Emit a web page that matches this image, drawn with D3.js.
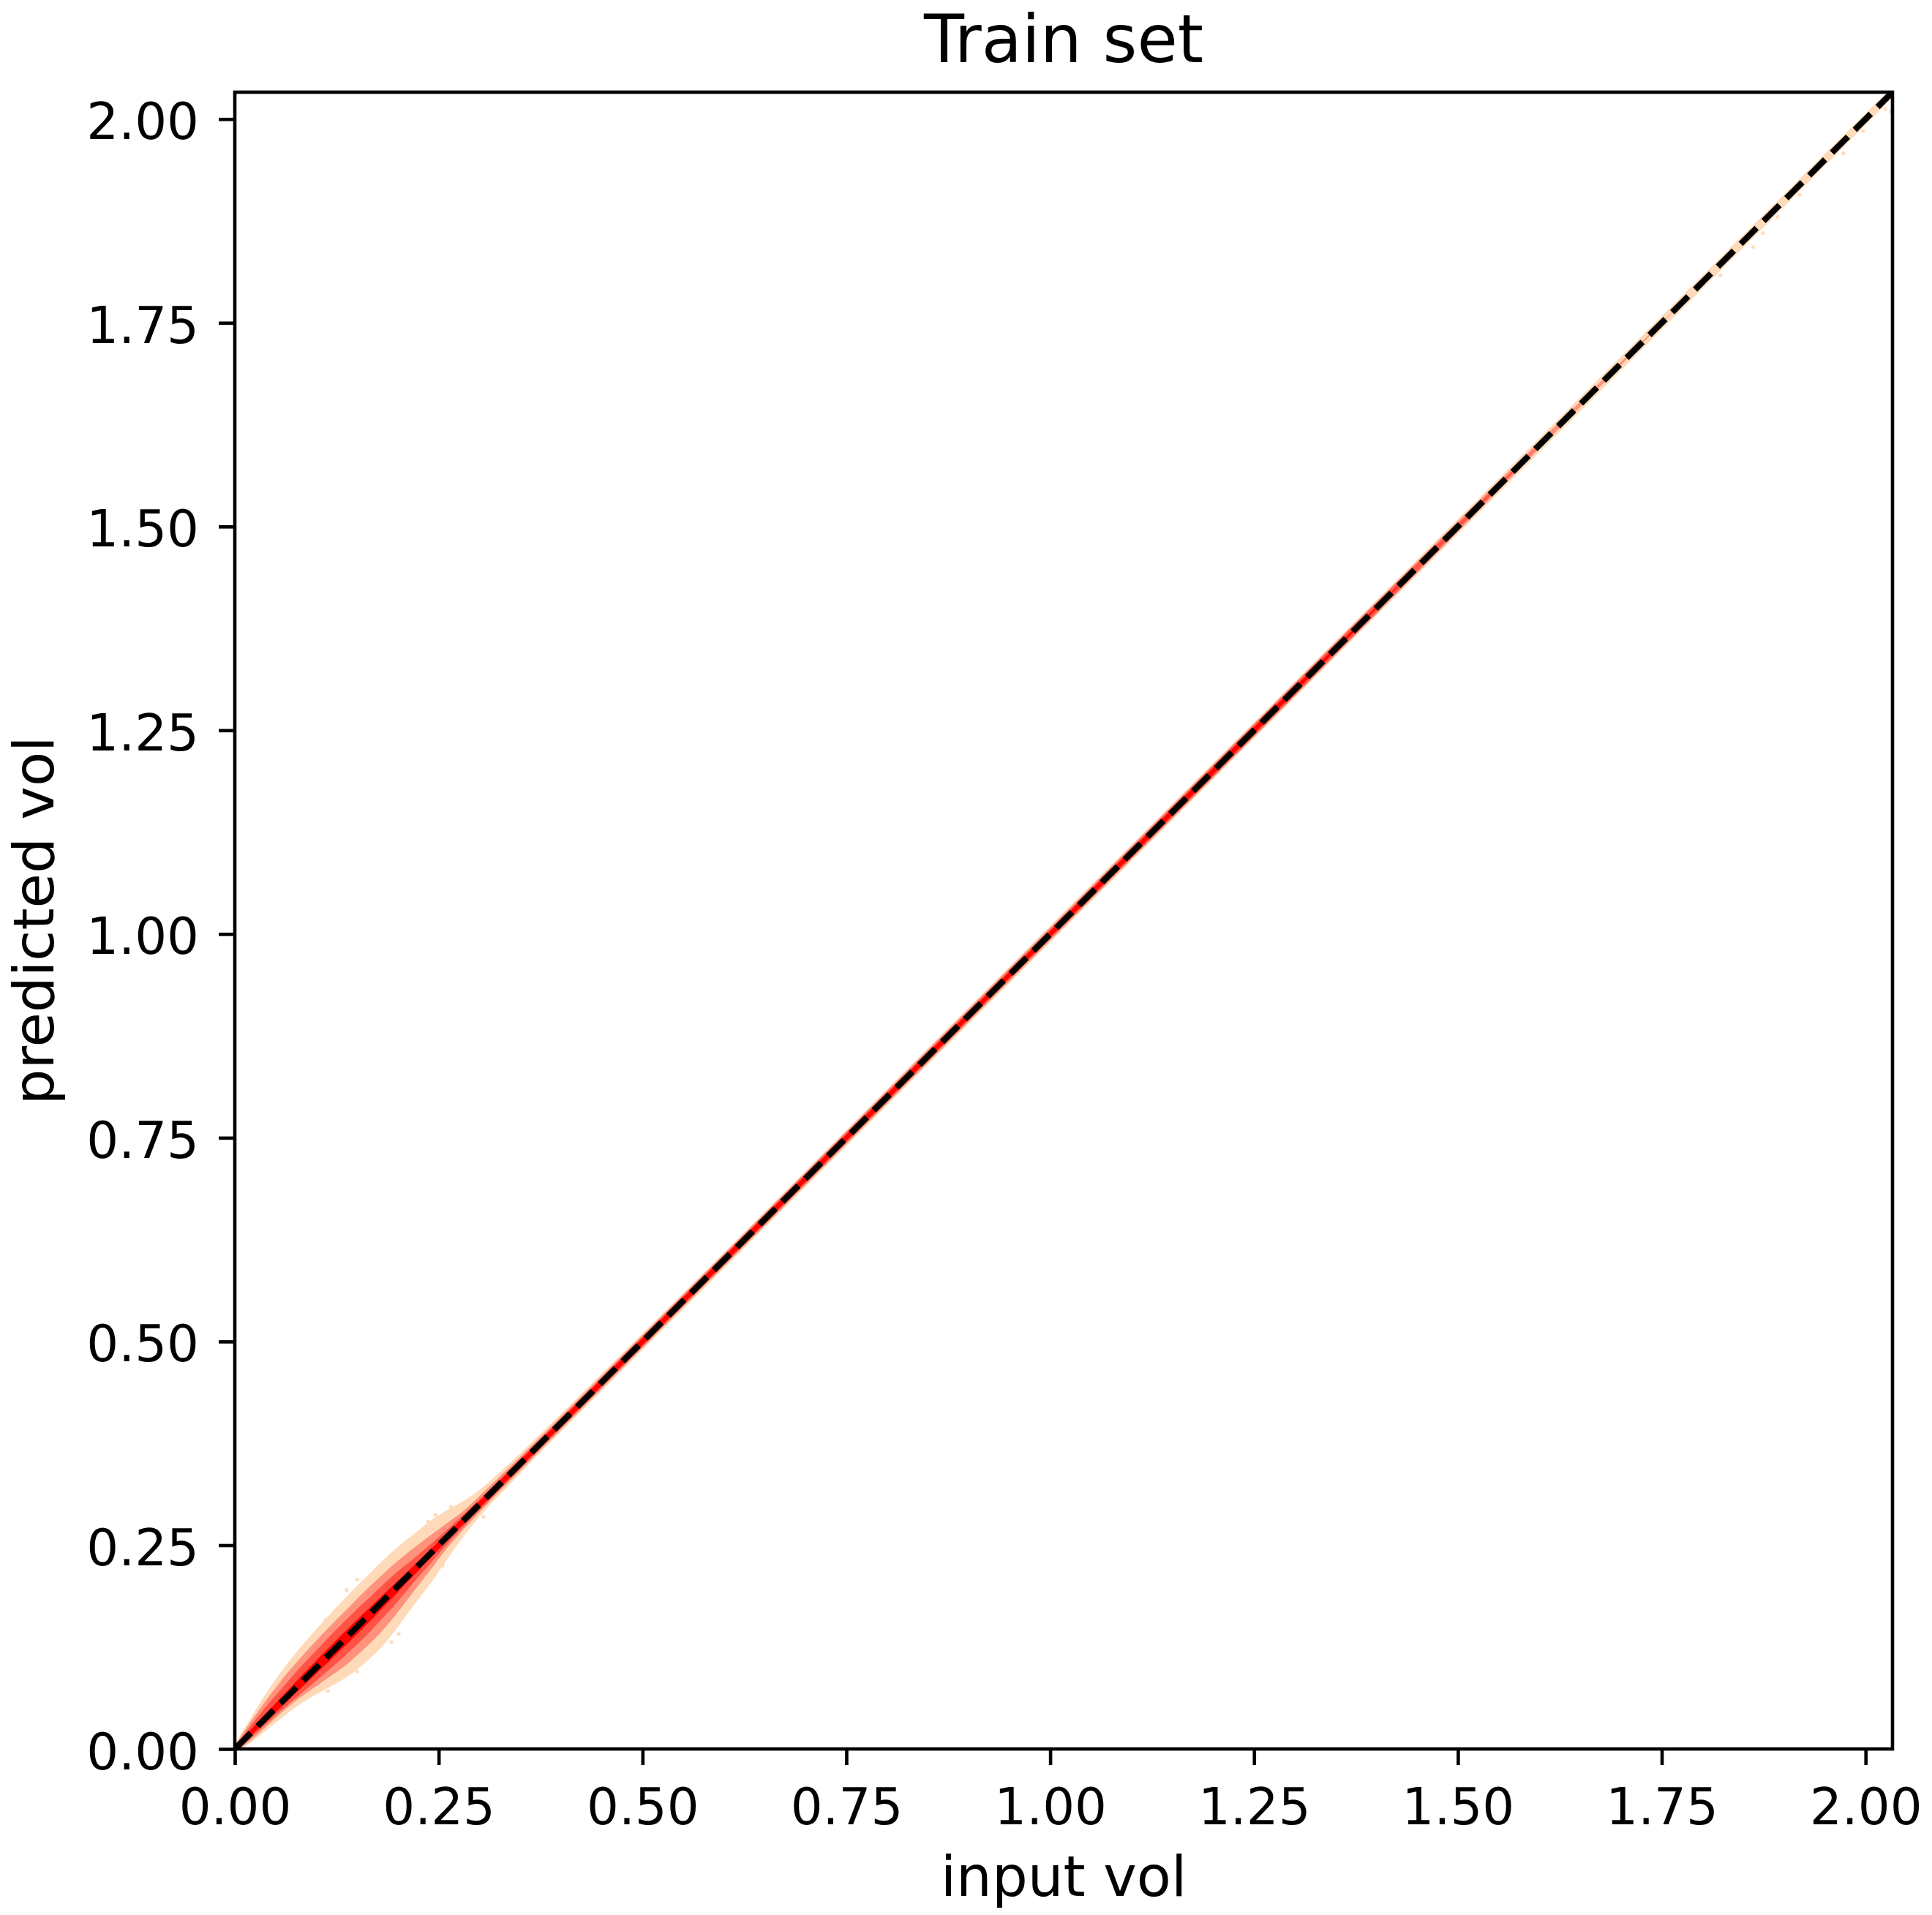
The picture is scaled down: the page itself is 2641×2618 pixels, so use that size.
<!DOCTYPE html>
<html>
<head>
<meta charset="utf-8">
<title>Train set</title>
<script src="https://cdn.jsdelivr.net/npm/d3@7"></script>
<style>
  body { margin: 0; background: #ffffff; }
  svg { display: block; }
</style>
</head>
<body>
<svg id="chart"></svg>
<script>
// axis range and ticks (same for both axes)
var axisMax = 2.033;
var tickValues = [0, 0.25, 0.5, 0.75, 1, 1.25, 1.5, 1.75, 2];
var tickLabels = ["0.00", "0.25", "0.50", "0.75", "1.00", "1.25", "1.50", "1.75", "2.00"];
var diagonal = [0, axisMax];

// 2d histogram read as bands round the diagonal:
// input vol, and lower / upper edge of (predicted - input) for each count level
var peachX  = [0, 0.02, 0.04, 0.06, 0.08, 0.10, 0.12, 0.14, 0.16, 0.18, 0.20, 0.22, 0.24, 0.26, 0.28, 0.30, 0.33, 0.37, 0.45, 1.00, 1.50, 1.80, 2.033];
var peachHi = [0.005, 0.019, 0.031, 0.039, 0.044, 0.047, 0.049, 0.050, 0.050, 0.050, 0.048, 0.044, 0.040, 0.033, 0.024, 0.018, 0.014, 0.012, 0.0105, 0.010, 0.009, 0.008, 0.007];
var peachLo = [-0.005, -0.012, -0.016, -0.020, -0.025, -0.033, -0.042, -0.050, -0.054, -0.055, -0.050, -0.043, -0.037, -0.028, -0.020, -0.015, -0.013, -0.011, -0.0105, -0.010, -0.009, -0.008, -0.007];

var lightX  = [0, 0.02, 0.04, 0.06, 0.08, 0.10, 0.12, 0.14, 0.16, 0.18, 0.20, 0.22, 0.24, 0.26, 0.28, 0.31, 0.35, 0.45, 1.00, 1.50, 1.78];
var lightHi = [0.004, 0.014, 0.022, 0.028, 0.031, 0.033, 0.034, 0.034, 0.034, 0.033, 0.031, 0.027, 0.022, 0.017, 0.012, 0.010, 0.0085, 0.008, 0.008, 0.0065, 0];
var lightLo = [-0.004, -0.009, -0.011, -0.013, -0.017, -0.023, -0.029, -0.034, -0.036, -0.036, -0.032, -0.026, -0.020, -0.014, -0.011, -0.009, -0.0085, -0.008, -0.008, -0.0065, 0];

var midX  = [0, 0.02, 0.04, 0.06, 0.08, 0.10, 0.12, 0.14, 0.16, 0.18, 0.20, 0.22, 0.24, 0.27, 0.30, 0.35, 0.50, 1.00, 1.40, 1.62];
var midHi = [0.003, 0.009, 0.014, 0.017, 0.020, 0.021, 0.022, 0.022, 0.021, 0.020, 0.018, 0.014, 0.011, 0.008, 0.0065, 0.006, 0.006, 0.0058, 0.0055, 0];
var midLo = [-0.003, -0.006, -0.008, -0.010, -0.013, -0.016, -0.019, -0.021, -0.022, -0.021, -0.019, -0.015, -0.012, -0.008, -0.007, -0.0062, -0.006, -0.0058, -0.0055, 0];

var redX  = [0, 0.02, 0.05, 0.08, 0.11, 0.14, 0.17, 0.20, 0.23, 0.27, 0.32, 0.50, 1.00, 1.30, 1.45];
var redHi = [0.002, 0.004, 0.006, 0.008, 0.009, 0.009, 0.008, 0.0065, 0.005, 0.0042, 0.004, 0.004, 0.0038, 0.0033, 0];
var redLo = [-0.002, -0.0035, -0.005, -0.0065, -0.008, -0.009, -0.009, -0.0075, -0.006, -0.0045, -0.0042, -0.004, -0.0038, -0.0033, 0];

// relative count of each level (0 = lowest bin, 1 = highest)
var levelCounts = [0, 0.33, 0.62, 1];

// single low-count bins outside the bands (input vol, predicted vol)
var strayInput     = [0.199, 0.190, 0.184, 0.196, 0.148, 0.112, 0.148, 0.135, 0.109, 0.235, 0.244, 0.263, 0.303, 0.253, 0.209, 0.073, 0.330, 0.352,
                      1.820, 1.860, 1.872, 1.890, 1.917, 1.971, 1.995, 2.022, 2.029];
var strayPredicted = [0.139, 0.129, 0.138, 0.159, 0.093, 0.069, 0.206, 0.193, 0.156, 0.277, 0.285, 0.295, 0.283, 0.223, 0.174, 0.105, 0.342, 0.360,
                      1.806, 1.841, 1.858, 1.878, 1.905, 1.956, 1.983, 2.010, 2.007];
var binWidth = 0.0041;

var W = 2641, H = 2618;
var svg = d3.select("#chart").attr("width", W).attr("height", H);

var x = d3.scaleLinear().domain([0, axisMax]).range([321, 2587]);
var y = d3.scaleLinear().domain([0, axisMax]).range([2391, 126]);

var color = d3.scaleLinear().domain([0, 1])
    .range(["peachpuff", "red"])
    .interpolate(d3.interpolateRgb);

svg.append("clipPath").attr("id", "plotclip")
  .append("rect")
    .attr("x", x(0)).attr("y", y(axisMax))
    .attr("width", x(axisMax) - x(0)).attr("height", y(0) - y(axisMax));

var plot = svg.append("g").attr("clip-path", "url(#plotclip)");

function band(xs, lo, hi) {
  return xs.map(function(v, i) { return { x: v, lo: lo[i], hi: hi[i] }; });
}
var bands = [
  band(peachX, peachLo, peachHi),
  band(lightX, lightLo, lightHi),
  band(midX, midLo, midHi),
  band(redX, redLo, redHi)
];

var area = d3.area()
    .x(function(d) { return x(d.x); })
    .y0(function(d) { return y(d.x + d.lo); })
    .y1(function(d) { return y(d.x + d.hi); })
    .curve(d3.curveMonotoneX);

// stray single bins first, under the bands
plot.selectAll(".stray")
  .data(strayInput)
  .enter().append("rect")
    .attr("class", "stray")
    .attr("x", function(d) { return x(d); })
    .attr("y", function(d, i) { return y(strayPredicted[i] + binWidth); })
    .attr("width", x(binWidth) - x(0))
    .attr("height", x(binWidth) - x(0))
    .attr("fill", color(levelCounts[0]));

plot.selectAll(".band")
  .data(bands)
  .enter().append("path")
    .attr("class", "band")
    .attr("d", area)
    .attr("fill", function(d, i) { return color(levelCounts[i]); });

// y = x reference line
plot.append("line")
    .attr("x1", x(diagonal[0])).attr("y1", y(diagonal[0]))
    .attr("x2", x(diagonal[1])).attr("y2", y(diagonal[1]))
    .attr("stroke", "#000")
    .attr("stroke-width", 8.3)
    .attr("stroke-dasharray", "30.8,13.3");

var fontFamily = "'DejaVu Sans', sans-serif";

// axes
var xAxis = svg.append("g")
    .attr("transform", "translate(0," + y(0) + ")")
    .call(d3.axisBottom(x).tickValues(tickValues)
      .tickFormat(function(d, i) { return tickLabels[i]; })
      .tickSize(22).tickSizeOuter(0));
xAxis.select(".domain").remove();
xAxis.selectAll(".tick line").attr("stroke", "#000").attr("stroke-width", 4.6);
xAxis.selectAll(".tick text")
    .attr("y", 103).attr("dy", null)
    .attr("fill", "#000")
    .attr("font-size", 69).attr("font-family", fontFamily);

var yAxis = svg.append("g")
    .attr("transform", "translate(" + x(0) + ",0)")
    .call(d3.axisLeft(y).tickValues(tickValues)
      .tickFormat(function(d, i) { return tickLabels[i]; })
      .tickSize(22).tickSizeOuter(0));
yAxis.select(".domain").remove();
yAxis.selectAll(".tick line").attr("stroke", "#000").attr("stroke-width", 4.6);
yAxis.selectAll(".tick text")
    .attr("x", -49).attr("y", 27).attr("dy", null)
    .attr("fill", "#000")
    .attr("font-size", 69).attr("font-family", fontFamily);

// frame
svg.append("rect")
    .attr("x", x(0)).attr("y", y(axisMax))
    .attr("width", x(axisMax) - x(0)).attr("height", y(0) - y(axisMax))
    .attr("fill", "none").attr("stroke", "#000").attr("stroke-width", 4.6);

// titles
var cx = (x(0) + x(axisMax)) / 2;
svg.append("text")
    .attr("x", cx).attr("y", 85)
    .attr("text-anchor", "middle")
    .attr("font-size", 90).attr("font-family", fontFamily)
    .text("Train set");

svg.append("text")
    .attr("x", cx).attr("y", 2592)
    .attr("text-anchor", "middle")
    .attr("font-size", 77).attr("font-family", fontFamily)
    .text("input vol");

svg.append("text")
    .attr("transform", "translate(73," + ((y(0) + y(axisMax)) / 2) + ") rotate(-90)")
    .attr("text-anchor", "middle")
    .attr("font-size", 77).attr("font-family", fontFamily)
    .text("predicted vol");
</script>
</body>
</html>
